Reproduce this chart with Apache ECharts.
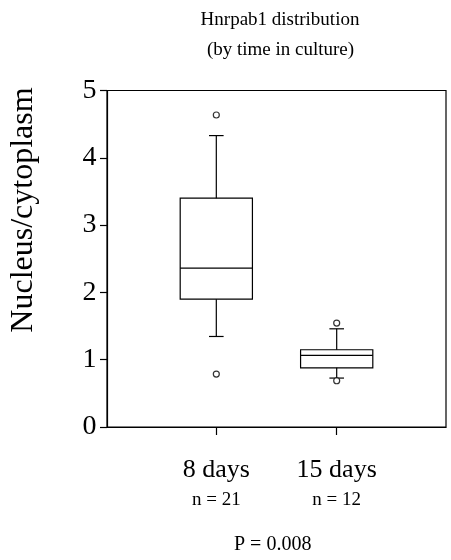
<!DOCTYPE html>
<html>
<head>
<meta charset="utf-8">
<script src="https://cdn.jsdelivr.net/npm/echarts@6/dist/echarts.min.js"></script>
<style>html,body{margin:0;padding:0;background:#fff;}#c{width:451px;height:560px;}</style>
</head>
<body>
<div id="c"></div>
<script>
// ---- data ----
const categories = ['8 days', '15 days'];
const nLabels = ['n = 21', 'n = 12'];
const whiskerLow = [1.345, 0.727];
const q1 = [1.90, 0.88];
const median = [2.36, 1.063];
const q3 = [3.40, 1.148];
const whiskerHigh = [4.33, 1.459];
const outliers8 = [4.636, 0.787];
const outliers15 = [1.544, 0.687];
const yTicks = [0, 1, 2, 3, 4, 5];
const titleLines = ['Hnrpab1 distribution', '(by time in culture)'];
const yTitle = 'Nucleus/cytoplasm';
const pText = 'P = 0.008';

const SERIF = '"Liberation Serif", "DejaVu Serif", serif';
const positions = categories.map((c, i) => i + 1);

const boxData = positions.map((x, i) => [x, whiskerLow[i], q1[i], median[i], q3[i], whiskerHigh[i]]);
const outlierData = []
  .concat(outliers8.map(v => [1, v]))
  .concat(outliers15.map(v => [2, v]));

const chart = echarts.init(document.getElementById('c'), null, {renderer: 'canvas'});

function renderBox(params, api) {
  const x = api.value(0);
  const lo = api.value(1), a = api.value(2), m = api.value(3), b = api.value(4), hi = api.value(5);
  const halfW = 0.3;
  const pTL = api.coord([x - halfW, b]);
  const pBR = api.coord([x + halfW, a]);
  const pc = api.coord([x, m]);
  const pLo = api.coord([x, lo]);
  const pHi = api.coord([x, hi]);
  const pA = api.coord([x, a]);
  const pB = api.coord([x, b]);
  const cap = 7.3;
  const st = {stroke: '#000', lineWidth: 1.2, fill: null};
  return {
    type: 'group',
    children: [
      {type: 'rect', shape: {x: pTL[0], y: pTL[1], width: pBR[0] - pTL[0], height: pBR[1] - pTL[1]}, style: {stroke: '#000', lineWidth: 1.2, fill: 'none'}},
      {type: 'line', shape: {x1: pTL[0], y1: pc[1], x2: pBR[0], y2: pc[1]}, style: st},
      {type: 'line', shape: {x1: pB[0], y1: pB[1], x2: pHi[0], y2: pHi[1]}, style: st},
      {type: 'line', shape: {x1: pA[0], y1: pA[1], x2: pLo[0], y2: pLo[1]}, style: st},
      {type: 'line', shape: {x1: pHi[0] - cap, y1: pHi[1], x2: pHi[0] + cap, y2: pHi[1]}, style: st},
      {type: 'line', shape: {x1: pLo[0] - cap, y1: pLo[1], x2: pLo[0] + cap, y2: pLo[1]}, style: st}
    ]
  };
}

const option = {
  backgroundColor: '#fff',
  animation: false,
  grid: {
    left: 107, top: 90.5, right: 5, bottom: 133,
    show: true, borderColor: '#000', borderWidth: 1.2, backgroundColor: 'transparent'
  },
  xAxis: {
    type: 'value',
    min: 0.092, max: 2.908,
    splitLine: {show: false},
    axisLine: {show: true, onZero: false, lineStyle: {color: '#000', width: 1.2}},
    axisTick: {show: true, length: 8, customValues: positions, lineStyle: {color: '#000', width: 1.2}},
    axisLabel: {
      show: true,
      customValues: positions,
      margin: 28.5,
      formatter: function (v) {
        const i = Math.round(v) - 1;
        if (i < 0 || i >= categories.length) return '';
        return '{a|' + categories[i] + '}\n{b|' + nLabels[i] + '}';
      },
      rich: {
        a: {fontFamily: SERIF, fontSize: 26, color: '#000', lineHeight: 30},
        b: {fontFamily: SERIF, fontSize: 19, color: '#000', lineHeight: 29.6}
      }
    }
  },
  yAxis: {
    type: 'value',
    min: 0, max: 5, interval: 1,
    splitLine: {show: false},
    axisLine: {show: true, lineStyle: {color: '#000', width: 1.2}},
    axisTick: {show: true, length: 7, lineStyle: {color: '#000', width: 1.2}},
    axisLabel: {
      margin: 10.5,
      fontFamily: SERIF, fontSize: 28, color: '#000',
      formatter: function (v) { return yTicks.indexOf(v) >= 0 ? String(v) : ''; }
    }
  },
  series: [
    {
      type: 'custom',
      renderItem: renderBox,
      data: boxData,
      encode: {x: 0, y: [1, 2, 3, 4, 5]},
      z: 3
    },
    {
      type: 'scatter',
      data: outlierData,
      symbol: 'circle',
      symbolSize: 6,
      itemStyle: {color: '#fff', borderColor: '#000', borderWidth: 1.2},
      z: 4
    }
  ],
  graphic: [
    {type: 'text', x: 280, y: 19.6, style: {text: titleLines[0], font: '19px ' + SERIF, fill: '#000', textAlign: 'center', textVerticalAlign: 'middle'}},
    {type: 'text', x: 280.5, y: 50.3, style: {text: titleLines[1], font: '19px ' + SERIF, fill: '#000', textAlign: 'center', textVerticalAlign: 'middle'}},
    {type: 'text', x: 24, y: 210, rotation: Math.PI / 2, style: {text: yTitle, font: '32px ' + SERIF, fill: '#000', textAlign: 'center', textVerticalAlign: 'middle'}},
    {type: 'text', x: 272.7, y: 545, style: {text: pText, font: '20px ' + SERIF, fill: '#000', textAlign: 'center', textVerticalAlign: 'middle'}}
  ]
};
chart.setOption(option);
</script>
</body>
</html>
